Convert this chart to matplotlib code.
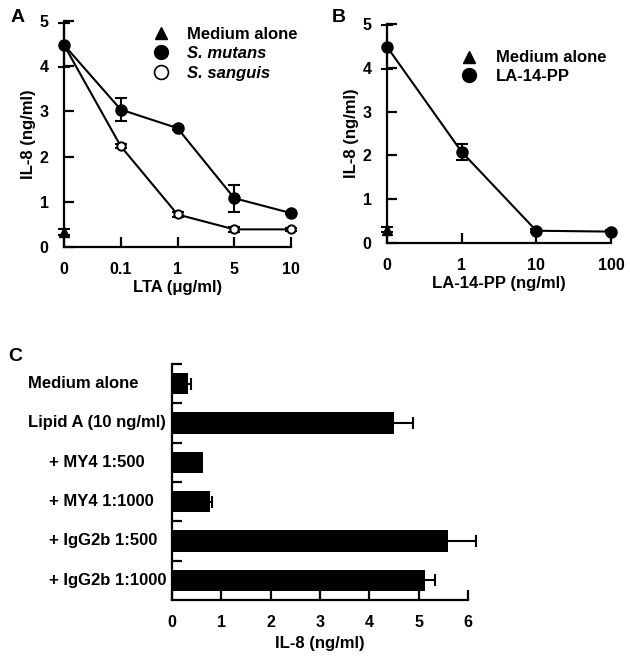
import matplotlib.pyplot as plt
from matplotlib.lines import Line2D
from matplotlib.transforms import blended_transform_factory

plt.rcParams['font.family'] = ['Liberation Sans', 'DejaVu Sans']
plt.rcParams['font.weight'] = 'bold'
plt.rcParams['axes.labelweight'] = 'bold'
plt.rcParams['font.size'] = 12

# Panel A data
lta_labels = ['0', '0.1', '1', '5', '10']
mutans = [4.47, 3.04, 2.63, 1.08, 0.75]
mutans_err = [0.48, 0.26, 0.05, 0.30, 0.03]
sanguis = [4.47, 2.23, 0.72, 0.39, 0.39]
sanguis_err = [0.48, 0.05, 0.05, 0.05, 0.03]
medium_a = 0.33
medium_a_err = 0.06

# Panel B data
la_labels = ['0', '1', '10', '100']
la14pp = [4.48, 2.08, 0.28, 0.26]
la14pp_err = [0.50, 0.18, 0.03, 0.03]
medium_b = 0.30
medium_b_err = 0.06

# Panel C data
conditions = ['Medium alone', 'Lipid A (10 ng/ml)', '+ MY4 1:500', '+ MY4 1:1000',
              '+ IgG2b 1:500', '+ IgG2b 1:1000']
il8_c = [0.33, 4.50, 0.63, 0.77, 5.60, 5.13]
il8_c_err = [0.05, 0.39, 0.0, 0.04, 0.56, 0.20]

fig = plt.figure(figsize=(6.3, 6.61), dpi=100)
W, H = 630, 661


def add_ax(l, t, r, b):
    return fig.add_axes([l / W, 1 - b / H, (r - l) / W, (b - t) / H])


def style(ax):
    for s in ['top', 'right']:
        ax.spines[s].set_visible(False)
    for s in ['left', 'bottom']:
        ax.spines[s].set_linewidth(1.6)
    ax.tick_params(direction='in', length=7, width=1.6, labelsize=11.5)
    ax.tick_params(axis='y', pad=11)
    ax.tick_params(axis='x', pad=11)


lw = 1.5
cap = 4.5

# ---- A
axA = add_ax(64, 21, 291, 247)
xa = list(range(len(lta_labels)))
axA.plot(xa, mutans, color='black', lw=lw, clip_on=False, zorder=2)
axA.plot(xa, sanguis, color='black', lw=lw, clip_on=False, zorder=2)
axA.errorbar(xa, mutans, yerr=mutans_err, fmt='none', ecolor='black', elinewidth=lw,
             capsize=cap, capthick=lw, clip_on=False, zorder=3)
axA.errorbar(xa, sanguis, yerr=sanguis_err, fmt='none', ecolor='black', elinewidth=lw,
             capsize=cap, capthick=lw, clip_on=False, zorder=3)
axA.plot(xa, mutans, 'o', color='black', ms=8, clip_on=False, zorder=4)
axA.plot(xa[1:], sanguis[1:], 'o', mfc='white', mec='black', mew=1.4, ms=6, clip_on=False, zorder=4)
axA.errorbar([0], [medium_a], yerr=[medium_a_err], fmt='^', color='black', ms=7,
             capsize=cap, elinewidth=lw, capthick=lw, clip_on=False, zorder=5)
axA.set_xlim(0, 4)
axA.set_ylim(0, 5)
axA.set_xticks(xa)
axA.set_xticklabels(lta_labels)
axA.set_yticks(range(6))
style(axA)
axA.set_ylabel('IL-8 (ng/ml)', fontsize=12, labelpad=3)
axA.set_xlabel('LTA (\u03bcg/ml)', fontsize=12, labelpad=2)
hA = [Line2D([], [], ls='none', marker='^', color='black', ms=9),
      Line2D([], [], ls='none', marker='o', color='black', ms=10),
      Line2D([], [], ls='none', marker='o', mfc='white', mec='black', mew=1.2, ms=10)]
legA = axA.legend(hA, ['Medium alone', 'S. mutans', 'S. sanguis'], loc='upper left',
                  bbox_to_anchor=(0.36, 1.005), frameon=False, handlelength=1.0,
                  handletextpad=1.1, labelspacing=0.28, borderaxespad=0, fontsize=12)
for t in legA.get_texts()[1:]:
    t.set_style('italic')
fig.text(11 / W, 1 - 18 / H, 'A', fontsize=14, fontweight='bold', va='center')

# ---- B
axB = add_ax(387, 24, 611, 243)
xb = list(range(len(la_labels)))
axB.plot(xb, la14pp, color='black', lw=lw, clip_on=False, zorder=2)
axB.errorbar(xb, la14pp, yerr=la14pp_err, fmt='none', ecolor='black', elinewidth=lw,
             capsize=cap, capthick=lw, clip_on=False, zorder=3)
axB.plot(xb, la14pp, 'o', color='black', ms=8, clip_on=False, zorder=4)
axB.errorbar([0], [medium_b], yerr=[medium_b_err], fmt='^', color='black', ms=7,
             capsize=cap, elinewidth=lw, capthick=lw, clip_on=False, zorder=5)
axB.set_xlim(0, 3)
axB.set_ylim(0, 5)
axB.set_xticks(xb)
axB.set_xticklabels(la_labels)
axB.set_yticks(range(6))
style(axB)
axB.set_ylabel('IL-8 (ng/ml)', fontsize=12, labelpad=3)
axB.set_xlabel('LA-14-PP (ng/ml)', fontsize=12, labelpad=2)
hB = [Line2D([], [], ls='none', marker='^', color='black', ms=9),
      Line2D([], [], ls='none', marker='o', color='black', ms=10)]
axB.legend(hB, ['Medium alone', 'LA-14-PP'], loc='upper left',
           bbox_to_anchor=(0.30, 0.91), frameon=False, handlelength=1.0,
           handletextpad=1.1, labelspacing=0.2, borderaxespad=0, fontsize=12)
fig.text(332 / W, 1 - 18 / H, 'B', fontsize=14, fontweight='bold', va='center')

# ---- C
axC = add_ax(172, 364, 468, 600)
yc = list(range(len(conditions)))
axC.barh(yc, il8_c, height=0.55, color='black', zorder=2)
ye = [y for y, e in zip(yc, il8_c_err) if e > 0]
xe = [v for v, e in zip(il8_c, il8_c_err) if e > 0]
ee = [e for e in il8_c_err if e > 0]
_, caps, bars = axC.errorbar(xe, ye, xerr=[[0] * len(ee), ee], fmt='none', ecolor='black',
                             elinewidth=lw, capsize=cap, capthick=lw, zorder=3, clip_on=False)
caps[0].set_visible(False)
for art in list(caps) + list(bars):
    art.set_clip_on(False)
axC.set_xlim(0, 6)
axC.set_ylim(len(conditions) - 0.5, -0.5)
axC.set_xticks(range(7))
axC.set_yticks([i - 0.5 for i in range(len(conditions))])
axC.set_yticklabels([])
style(axC)
axC.tick_params(axis='x', pad=11)
axC.set_xlabel('IL-8 (ng/ml)', fontsize=12, labelpad=4)
trans = blended_transform_factory(fig.transFigure, axC.transData)
for i, c in enumerate(conditions):
    x0 = 28 if i < 2 else 49
    fig.text(x0 / W, i, c, transform=trans, ha='left', va='center', fontsize=12)
fig.text(8 / W, 1 - 356 / H, 'C', fontsize=14, fontweight='bold', va='center')

fig.savefig('out.png', dpi=100)
